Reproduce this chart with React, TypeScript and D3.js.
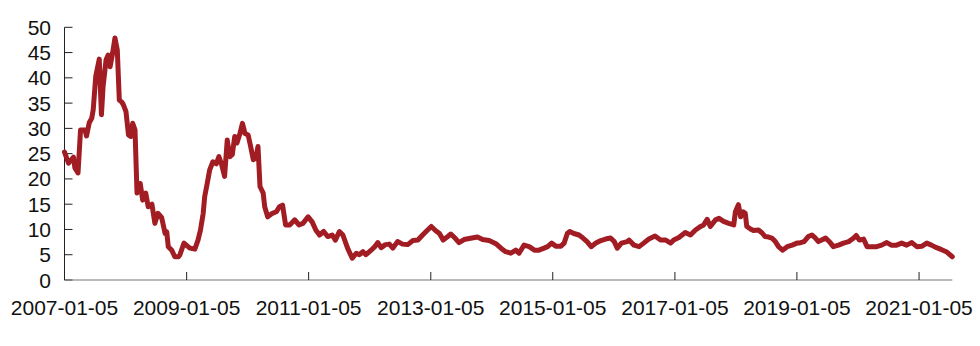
import React from "react";
import * as d3 from "d3";

const dates: string[] = [
  "2007-01-05","2007-01-29","2007-02-28","2007-03-08","2007-03-27","2007-04-11","2007-05-07","2007-05-17","2007-06-02","2007-06-17",
  "2007-06-26","2007-07-11","2007-08-01","2007-08-14","2007-08-24","2007-09-11","2007-09-23","2007-10-05","2007-10-20","2007-11-03",
  "2007-11-17","2007-11-29","2007-12-14","2007-12-23","2008-01-08","2008-01-23","2008-02-05","2008-02-17","2008-03-02","2008-03-14",
  "2008-04-02","2008-04-17","2008-05-05","2008-05-20","2008-06-11","2008-06-29","2008-07-17","2008-08-08","2008-08-29","2008-09-08",
  "2008-09-17","2008-10-08","2008-10-26","2008-11-17","2008-11-26","2008-12-05","2008-12-20","2009-01-14","2009-01-26","2009-02-23",
  "2009-03-14","2009-03-29","2009-04-14","2009-04-23","2009-05-08","2009-05-23","2009-06-11","2009-07-02","2009-07-17","2009-08-01",
  "2009-08-20","2009-09-05","2009-09-20","2009-10-05","2009-10-20","2009-11-02","2009-11-20","2009-12-05","2009-12-20","2010-01-08",
  "2010-01-23","2010-02-08","2010-02-23","2010-03-08","2010-03-20","2010-04-08","2010-04-17","2010-05-05","2010-06-02","2010-06-26",
  "2010-07-14","2010-08-02","2010-08-20","2010-09-14","2010-10-14","2010-11-08","2010-12-02","2011-01-02","2011-01-26","2011-02-17",
  "2011-03-11","2011-04-05","2011-04-29","2011-05-26","2011-06-14","2011-07-08","2011-07-29","2011-08-26","2011-09-23","2011-10-17",
  "2011-11-05","2011-11-26","2011-12-14","2012-01-14","2012-02-05","2012-02-23","2012-03-14","2012-04-08","2012-05-02","2012-05-23",
  "2012-06-20","2012-07-20","2012-08-20","2012-09-20","2012-10-20","2012-11-17","2012-12-17","2013-01-08","2013-02-02","2013-02-26",
  "2013-03-20","2013-04-17","2013-05-05","2013-06-02","2013-06-23","2013-07-23","2013-08-23","2013-10-11","2013-11-11","2013-12-20",
  "2014-02-02","2014-03-01","2014-03-29","2014-04-29","2014-05-29","2014-06-17","2014-07-17","2014-08-17","2014-09-17","2014-10-14",
  "2014-11-14","2014-12-05","2014-12-29","2015-01-23","2015-02-23","2015-03-14","2015-04-02","2015-04-17","2015-05-11","2015-06-11",
  "2015-07-05","2015-07-29","2015-08-23","2015-09-20","2015-10-20","2015-11-17","2015-12-17","2016-01-08","2016-01-26","2016-02-20",
  "2016-03-26","2016-04-05","2016-05-05","2016-06-05","2016-07-02","2016-08-02","2016-09-08","2016-10-11","2016-11-11","2016-12-11",
  "2016-12-29","2017-01-29","2017-03-08","2017-04-08","2017-05-08","2017-06-08","2017-06-26","2017-07-17","2017-08-05","2017-09-05",
  "2017-09-26","2017-10-23","2017-11-23","2017-12-23","2018-01-02","2018-01-20","2018-02-02","2018-02-17","2018-03-02","2018-03-11",
  "2018-04-02","2018-04-20","2018-05-20","2018-06-11","2018-06-29","2018-07-20","2018-08-08","2018-08-29","2018-09-17","2018-10-11",
  "2018-11-08","2018-12-08","2019-01-05","2019-01-17","2019-02-17","2019-03-14","2019-04-05","2019-04-23","2019-05-14","2019-06-02",
  "2019-06-26","2019-07-23","2019-08-11","2019-09-11","2019-10-11","2019-11-11","2019-12-11","2019-12-26","2020-01-14","2020-02-08",
  "2020-02-29","2020-03-26","2020-04-26","2020-05-26","2020-06-26","2020-07-23","2020-08-23","2020-09-23","2020-10-23","2020-11-23",
  "2020-12-23","2021-01-23","2021-02-20","2021-03-20","2021-04-20","2021-05-20","2021-06-17","2021-07-23"
];

const values: number[] = [
  25.3,23.1,24.3,22.2,21.2,29.7,29.7,28.5,31.1,32.0,
  33.7,40.3,43.7,32.7,38.3,43.6,44.5,42.2,44.9,47.9,
  45.5,35.6,35.2,34.7,33.3,28.7,28.4,31.0,29.7,17.2,
  19.1,15.8,17.2,14.5,15.0,11.2,13.2,12.4,9.2,9.5,
  6.6,5.9,4.6,4.6,5.0,5.9,7.3,6.6,6.3,6.1,
  7.9,9.9,13.2,16.5,19.1,21.8,23.4,23.0,24.4,23.0,
  20.5,27.7,24.4,24.8,28.4,27.1,29.0,31.0,29.0,28.7,
  26.4,23.8,24.1,26.4,18.5,17.2,14.5,12.5,13.2,13.5,
  14.5,14.8,10.9,10.9,11.9,10.9,11.2,12.5,11.5,9.9,
  8.9,9.6,8.6,8.9,7.9,9.6,8.9,6.3,4.3,5.3,
  5.0,5.6,5.0,5.9,6.6,7.4,6.4,7.0,7.1,6.3,
  7.6,7.1,7.0,7.8,7.9,8.9,9.9,10.6,9.8,9.2,
  7.9,8.6,9.1,8.2,7.4,8.0,8.2,8.5,8.0,7.8,
  7.1,6.3,5.6,5.3,5.9,5.3,6.9,6.6,5.9,5.9,
  6.3,6.6,7.3,6.7,6.7,7.3,9.2,9.6,9.2,8.9,
  8.3,7.6,6.6,7.3,7.8,8.1,8.3,7.6,6.3,7.3,
  7.6,7.9,6.9,6.6,7.3,8.1,8.7,7.9,7.9,7.3,
  7.9,8.4,9.4,8.9,9.9,10.6,10.9,12.0,10.6,11.9,
  12.2,11.6,11.2,10.9,13.5,14.9,12.5,13.5,13.2,10.6,
  10.1,9.8,9.9,9.3,8.6,8.5,8.3,7.6,6.6,5.9,
  6.6,6.9,7.3,7.3,7.6,8.6,8.9,8.4,7.6,7.9,
  8.3,7.4,6.6,6.9,7.3,7.6,8.3,8.8,7.9,8.1,
  6.6,6.6,6.6,6.9,7.4,6.9,6.9,7.3,6.9,7.4,
  6.6,6.7,7.3,6.9,6.4,6.0,5.6,4.6
];

const xTickLabels: string[] = [
  "2007-01-05","2009-01-05","2011-01-05","2013-01-05",
  "2015-01-05","2017-01-05","2019-01-05","2021-01-05"
];
const yTickValues: number[] = [0, 5, 10, 15, 20, 25, 30, 35, 40, 45, 50];

const W = 980, H = 346;
const left = 64.5, right = 952.3, top = 27.3, bottom = 280;
const FONT = "'Liberation Sans', Arial, sans-serif";

export default function App() {
  const parse = d3.timeParse("%Y-%m-%d");
  const data = dates.map((d, i) => ({ date: parse(d) as Date, v: values[i] }));
  const x = d3.scaleTime()
    .domain([parse(dates[0]) as Date, parse(dates[dates.length - 1]) as Date])
    .range([left, right]);
  const y = d3.scaleLinear().domain([0, 50]).range([bottom, top]);
  const line = d3.line<{ date: Date; v: number }>()
    .x(d => x(d.date))
    .y(d => y(d.v))
    .curve(d3.curveLinear);

  return (
    <svg width={W} height={H} style={{ position: "absolute", left: 0, top: 0, background: "#fff" }}>
      <rect x={0} y={0} width={W} height={H} fill="#fff" />
      {/* y axis */}
      <line x1={left} x2={left} y1={top} y2={bottom} stroke="#222" strokeWidth={1} />
      {yTickValues.map(t => (
        <g key={t}>
          <line x1={left} x2={left + 8} y1={y(t)} y2={y(t)} stroke="#222" strokeWidth={1} />
          <text x={51} y={y(t)} dy="0.36em" textAnchor="end" fontFamily={FONT} fontSize={21} fill="#111">{t}</text>
        </g>
      ))}
      {/* x axis */}
      <line x1={left} x2={right} y1={bottom} y2={bottom} stroke="#777" strokeWidth={1.2} />
      {xTickLabels.map(lbl => {
        const px = x(parse(lbl) as Date);
        return (
          <g key={lbl}>
            <line x1={px} x2={px} y1={bottom} y2={bottom - 8} stroke="#222" strokeWidth={1} />
            <text x={px} y={315} textAnchor="middle" fontFamily={FONT} fontSize={21} fill="#111">{lbl}</text>
          </g>
        );
      })}
      <path d={line(data) || ""} fill="none" stroke="#A21C24" strokeWidth={5} strokeLinejoin="round" strokeLinecap="round" />
    </svg>
  );
}
